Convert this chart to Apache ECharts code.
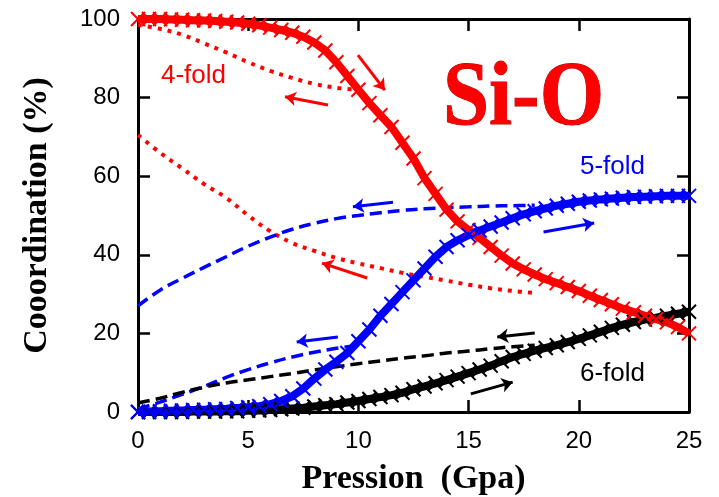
<!DOCTYPE html>
<html>
<head>
<meta charset="utf-8">
<script src="https://cdn.jsdelivr.net/npm/echarts@6/dist/echarts.min.js"></script>
<style>
  html, body { margin: 0; padding: 0; background: #fff; }
  #chart { width: 719px; height: 497px; }
</style>
</head>
<body>
<div id="chart"></div>
<script>
// Pressure grid (GPa) for the compression runs
const pressureUp = [0,0.5,1,1.5,2,2.5,3,3.5,4,4.5,5,5.5,6,6.5,7,7.5,8,8.5,9,9.5,10,10.5,11,11.5,12,12.5,13,13.5,14,14.5,15,15.5,16,16.5,17,17.5,18,18.5,19,19.5,20,20.5,21,21.5,22,22.5,23,23.5,24,24.5,25];

// Compression: fraction of Si in each coordination (%)
const fold4Up = [100,100,100,99.9,99.8,99.7,99.6,99.5,99.3,99.1,98.8,98.4,97.8,97.2,96.5,95.5,94,92,89,85.5,82,78.6,75.5,72.5,68.5,64.5,59.5,55.5,51.5,48.5,46.3,44.3,42,39.8,37.8,36.3,35,33.8,32.8,31.8,30.8,29.6,28.5,27.4,26.3,25.4,24.5,23.6,22.8,21.6,20];
const fold5Up = [0,0.1,0.2,0.3,0.4,0.5,0.6,0.7,0.8,1,1.2,1.5,2,2.8,4,6,8.5,10.8,12.8,15,18,21,24.5,27.5,30.5,33.5,36.5,39.5,42,43.7,45,46.2,47.2,48.2,49.3,50.3,51.1,51.8,52.5,53,53.5,53.8,54.1,54.3,54.5,54.7,54.8,54.9,55,55,55];
const fold6Up = [0,0,0,0,0,0.1,0.1,0.1,0.2,0.2,0.3,0.4,0.5,0.7,0.9,1.1,1.4,1.7,2,2.4,2.8,3.3,3.8,4.3,4.9,5.8,6.5,7.3,8.1,9,9.9,10.8,11.8,12.9,14,14.8,15.6,16.3,17,17.8,18.6,19.5,20.4,21.4,22.2,22.9,23.5,24,24.5,25,25.5];

// Decompression from 10 GPa
const pressureDown10 = [0,1,2,3,4,5,6,7,8,9,10];
const fold4Down10 = [98.5,97.5,96,93.8,91.5,89,86.8,85,83.5,82.5,82];
const fold5Down10 = [0.8,2.5,4.5,6.5,8.8,10.8,12.5,14,15.2,16.2,17];

// Decompression from 18 GPa
const pressureDown18 = [0,1,2,3,4,5,6,7,8,9,10,11,12,13,14,15,16,17,18];
const fold4Down18 = [70.5,66,62,58,54.5,50,46,43,41,39.2,37.8,36.6,35.4,34.4,33.4,32.4,31.5,30.8,30.3];
const fold5Down18 = [27,31,34,36.8,39.5,42.2,44.5,46.5,48,49.2,50,50.7,51.3,51.7,52,52.2,52.4,52.5,52.6];
const fold6Down18 = [2.3,3.5,5,6.3,7.4,8.2,9,9.8,10.7,11.5,12.3,13,13.7,14.3,15,15.5,16.1,16.6,17];

// Direction arrows [x0, y0, x1, y1] in data units
const arrowsRed   = [[9.98,90.8,11.2,81.9],[8.62,78.1,6.67,80.2],[10.4,34.1,8.35,37.9]];
const arrowsBlue  = [[11.57,53.4,9.75,52.2],[9.07,19.1,7.2,17.8],[18.4,45.8,20.7,48.1]];
const arrowsBlack = [[18.0,20.1,16.3,19.1],[15.1,4.6,17.0,7.6]];

const xTicks = [0,5,10,15,20,25];
const yTicks = [0,20,40,60,80,100];

const RED = '#ff0000', BLUE = '#0000ff', BLACK = '#000000';
const cross = 'path://M0,0L10,10M10,0L0,10';

const zip = (xs, ys) => xs.map((x, i) => [x, ys[i]]);

function upSeries(name, ys, color) {
  return {
    name, type: 'line', data: zip(pressureUp, ys), clip: false,
    symbol: cross, symbolSize: 14, showAllSymbol: true,
    itemStyle: { color: 'rgba(0,0,0,0)', borderColor: color, borderWidth: 2 },
    lineStyle: { color, width: 8 },
    emphasis: { disabled: true }, z: 3
  };
}
function downSeries(name, xs, ys, color, dash, width) {
  return {
    name, type: 'line', data: zip(xs, ys), smooth: 0.4, symbol: 'none',
    lineStyle: { color, width, type: dash }, emphasis: { disabled: true }, z: 2
  };
}
function arrowSeries(list, color) {
  return {
    type: 'lines', coordinateSystem: 'cartesian2d', z: 4,
    symbol: ['none', 'arrow'], symbolSize: 11,
    lineStyle: { color, width: 3, opacity: 1, curveness: 0 },
    data: list.map(a => ({ coords: [[a[0], a[1]], [a[2], a[3]]] }))
  };
}

const tickLabel = { fontFamily: 'Liberation Sans', fontSize: 24, color: '#000' };
const frameLine = { show: true, onZero: false, lineStyle: { color: '#000', width: 3 } };
const tick = { show: true, inside: true, length: 12, lineStyle: { color: '#000', width: 2.5 } };

const chart = echarts.init(document.getElementById('chart'), null, { renderer: 'canvas' });
chart.setOption({
  animation: false,
  backgroundColor: '#fff',
  grid: { left: 138, right: 30, top: 19, bottom: 85, containLabel: false, outerBoundsMode: 'none' },
  xAxis: [
    { type: 'value', min: 0, max: 25, interval: 5, position: 'bottom',
      axisLine: frameLine, axisTick: tick, splitLine: { show: false },
      axisLabel: Object.assign({ margin: 17, formatter: v => xTicks.includes(v) ? String(v) : '' }, tickLabel),
      name: 'Pression  (Gpa)', nameLocation: 'middle', nameGap: 50,
      nameTextStyle: { fontFamily: 'Liberation Serif', fontWeight: 'bold', fontSize: 34, color: '#000' } },
    { type: 'value', min: 0, max: 25, interval: 5, position: 'top',
      axisLine: frameLine, axisTick: tick, axisLabel: { show: false }, splitLine: { show: false } }
  ],
  yAxis: [
    { type: 'value', min: 0, max: 100, interval: 20, position: 'left',
      axisLine: frameLine, axisTick: tick, splitLine: { show: false },
      axisLabel: Object.assign({ margin: 18, formatter: v => yTicks.includes(v) ? String(v) : '' }, tickLabel),
      name: 'Cooordination (%)', nameLocation: 'middle', nameGap: 84, nameRotate: 90,
      nameTextStyle: { fontFamily: 'Liberation Serif', fontWeight: 'bold', fontSize: 34, color: '#000' } },
    { type: 'value', min: 0, max: 100, interval: 20, position: 'right',
      axisLine: frameLine, axisTick: tick, axisLabel: { show: false }, splitLine: { show: false } }
  ],
  series: [
    downSeries('4-fold 10 GPa down', pressureDown10, fold4Down10, RED, [4, 6], 4),
    downSeries('4-fold 18 GPa down', pressureDown18, fold4Down18, RED, [4, 6], 4),
    downSeries('5-fold 10 GPa down', pressureDown10, fold5Down10, BLUE, [12, 6], 3.5),
    downSeries('5-fold 18 GPa down', pressureDown18, fold5Down18, BLUE, [12, 6], 3.5),
    downSeries('6-fold 18 GPa down', pressureDown18, fold6Down18, BLACK, [12, 6], 3.5),
    upSeries('6-fold', fold6Up, BLACK),
    upSeries('4-fold', fold4Up, RED),
    upSeries('5-fold', fold5Up, BLUE),
    arrowSeries(arrowsRed, RED),
    arrowSeries(arrowsBlue, BLUE),
    arrowSeries(arrowsBlack, BLACK)
  ],
  graphic: [
    { type: 'text', left: 161, top: 63, z: 10,
      style: { text: '4-fold', fill: RED, font: '26px "Liberation Sans"' } },
    { type: 'text', left: 580, top: 154, z: 10,
      style: { text: '5-fold', fill: BLUE, font: '26px "Liberation Sans"' } },
    { type: 'text', left: 580, top: 361, z: 10,
      style: { text: '6-fold', fill: BLACK, font: '26px "Liberation Sans"' } },
    { type: 'text', x: 443, y: 54, scaleX: 0.9, z: 10,
      style: { text: 'Si-O', fill: RED, font: 'bold 92px "Liberation Serif"',
               stroke: '#b00000', lineWidth: 1 } }
  ]
});
</script>
</body>
</html>
